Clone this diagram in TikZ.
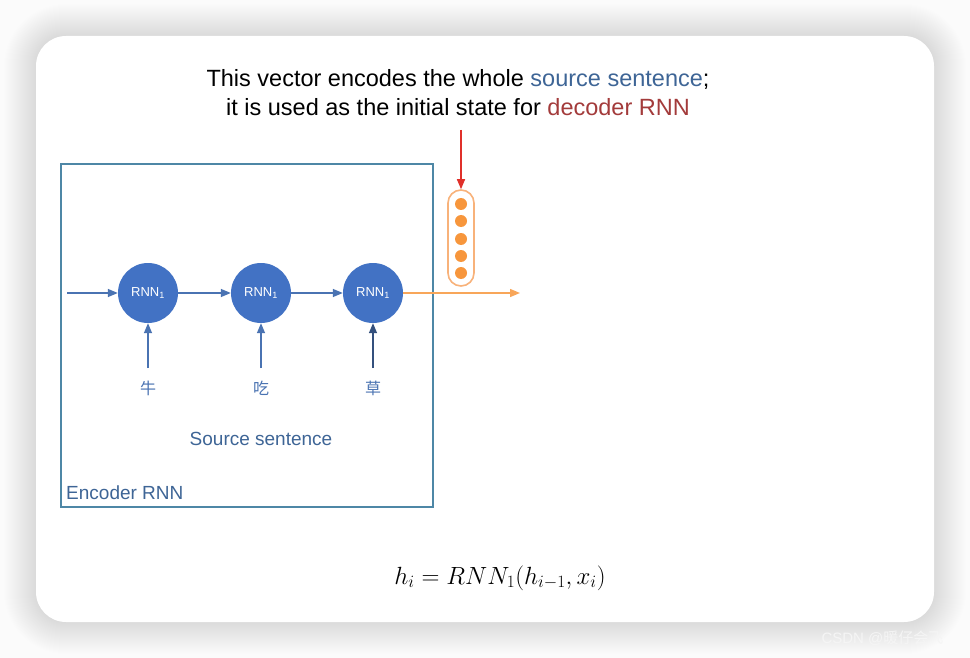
\documentclass[tikz,border=0pt]{standalone}
\usepackage{fontspec}
\setmainfont{Liberation Sans}
\newfontfamily\cjk{Noto Sans CJK SC}
\usetikzlibrary{arrows.meta}
\definecolor{bgc}{HTML}{FBFBFB}
\definecolor{boxc}{HTML}{4E87A6}
\definecolor{arrc}{HTML}{4A73B2}
\definecolor{rnnc}{HTML}{4272C4}
\definecolor{srcc}{HTML}{3E6596}
\definecolor{decc}{HTML}{A33B3B}
\definecolor{orc}{HTML}{F7963C}
\definecolor{orl}{HTML}{F8B27A}
\definecolor{redc}{HTML}{E0302A}
\tikzset{
  rnn/.style={circle, fill=rnnc, minimum size=60pt, inner sep=0pt, text=white, font=\fontsize{13}{15}\selectfont},
  tip/.style={-{Triangle[length=10pt,width=8pt]}},
  flow/.style={draw=arrc, line width=1.4pt, tip},
  word/.style={text=arrc, font=\cjk\fontsize{16}{18}\selectfont},
  dot/.style={circle, fill=orc, minimum size=12pt, inner sep=0pt},
}
\begin{document}
\begin{tikzpicture}[x=1pt,y=-1pt]
\useasboundingbox (0,0) rectangle (970,658);
\fill[bgc] (0,0) rectangle (970,658);
% shadow
\foreach \i in {1,...,32}{
  \fill[black, opacity=0.0035, rounded corners={30pt+\i pt}] (36-\i,36-\i) rectangle (934+\i,622+\i);
}
\fill[white, rounded corners=30pt] (36,36) rectangle (934,622);
\node[text=white!92!gray, font=\fontsize{15}{17}\selectfont, anchor=west] (wm) at (818,638) {CSDN @{\cjk 暖仔会飞}};

% encoder box
\draw[boxc, line width=1.8pt] (61,164) rectangle (433,507);
\node[anchor=south west, text=srcc, font=\fontsize{19}{21}\selectfont, inner sep=0pt] (enc) at (66,500) {Encoder RNN};

% rnn nodes
\node[rnn] (r1) at (148,293) {RNN\textsubscript{1}};
\node[rnn] (r2) at (261,293) {RNN\textsubscript{1}};
\node[rnn] (r3) at (373,293) {RNN\textsubscript{1}};
\coordinate (in0) at (67,293);
\draw[flow] (in0) -- (r1);
\draw[flow] (r1) -- (r2);
\draw[flow] (r2) -- (r3);

% words
\node[word] (w1) at (148,388) {牛};
\node[word] (w2) at (261,388) {吃};
\node[word] (w3) at (373,388) {草};
\coordinate (b1) at (148,368);
\coordinate (b2) at (261,368);
\coordinate (b3) at (373,368);
\draw[flow] (b1) -- (r1);
\draw[flow] (b2) -- (r2);
\draw[flow, draw=arrc!70!black] (b3) -- (r3);

\node[text=srcc, font=\fontsize{19}{21}\selectfont] (src) at (261,439) {Source sentence};

% vector
\node[draw=orl, line width=1.6pt, rounded corners=13pt, minimum width=26pt, minimum height=96pt, inner sep=0pt] (vec) at (461,238) {};
\foreach \k/\yy in {1/204,2/221,3/239,4/256,5/273}{
  \node[dot] (d\k) at (461,\yy) {};
}
\coordinate (out) at (520,293);
\draw[draw=orc!85!white, line width=1.4pt, tip] (r3) -- (out);

% annotation
\node[align=center, font=\fontsize{23.5}{29}\selectfont] (note) at (458,93)
  {This vector encodes the whole \textcolor{srcc}{source sentence};\\
   it is used as the initial state for \textcolor{decc}{decoder RNN}};
\coordinate (na) at (461,130);
\draw[redc, line width=1.4pt, tip] (na) -- (vec.north);

% formula
\node[font=\fontsize{25}{29}\selectfont] (eq) at (500,578) {$h_i = RNN_1(h_{i-1}, x_i)$};
\end{tikzpicture}
\end{document}
